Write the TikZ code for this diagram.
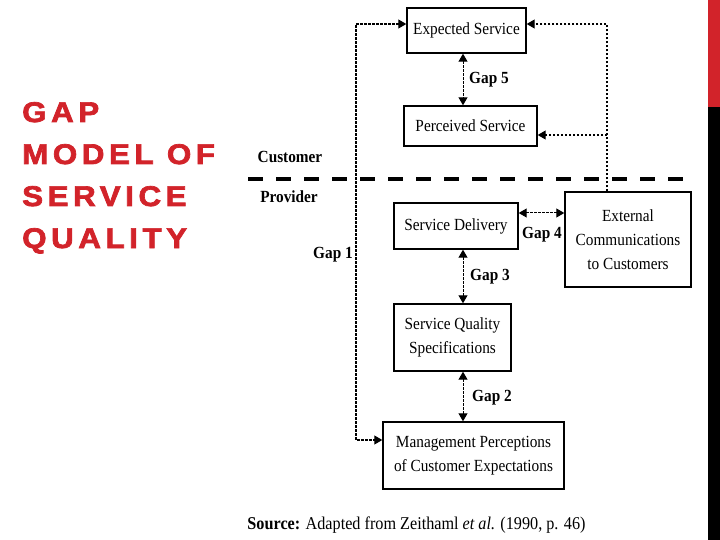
\documentclass[tikz,border=0pt]{standalone}
\usepackage{fontspec}
\setmainfont[FakeStretch=0.9]{Liberation Serif}
\newfontfamily\headfont[LetterSpace=16,FakeBold=2.5,FakeStretch=1.1]{Liberation Sans Bold}
\usepackage{tikz}
\usetikzlibrary{arrows.meta,calc,positioning}
\definecolor{headcol}{RGB}{210,35,42}
\tikzset{
  box/.style={draw,line width=1.4pt,inner sep=0pt,align=center,font=\fontsize{17}{24}\selectfont},
  gap/.style={line width=1pt,dash pattern=on 2.5pt off 1.5pt,<->},
  fb/.style={line width=1.1pt,dash pattern=on 2.5pt off 1.5pt},
  lbl/.style={inner sep=0pt,font=\fontsize{17}{20}\selectfont\bfseries},
  head/.style={inner sep=0pt,anchor=base west,text=headcol,font=\headfont\fontsize{28.5}{42}\selectfont}
}
\begin{document}
\begin{tikzpicture}[x=1pt,y=-1pt,>={Triangle[length=8pt,width=9pt]}]
\useasboundingbox (0,0) rectangle (720,540);
% slide title and edge bar
\foreach \t [count=\i] in {GAP,MODEL OF,SERVICE,QUALITY}
  \node[head] (head\i) at (22,{122+42*(\i-1)}) {\t};
\fill[headcol] (708,0) rectangle (720,107);
\fill[black] (708,107) rectangle (720,540);
% customer side
\node[box,minimum width=119pt,minimum height=45pt] (exp) at (466.5,30.5) {Expected Service};
\node[box,minimum width=133pt,minimum height=40pt] (perc) at (470.5,126) {Perceived Service};
% provider side
\node[box,minimum width=124pt,minimum height=46pt] (deliv) at (456,226) {Service Delivery};
\node[box,minimum width=126pt,minimum height=95pt] (ext) at (628,239.5) {External\\Communications\\to Customers};
\node[box,minimum width=117pt,minimum height=67pt] (spec) at (452.5,337.5) {Service Quality\\Specifications};
\node[box,minimum width=181pt,minimum height=67pt] (mgmt) at (473.5,455.5) {Management Perceptions\\of Customer Expectations};
% boundary
\draw[line width=3.5pt,dash pattern=on 15pt off 13pt] (248,179) -- (683,179);
\node[lbl] (cust) at (290,157) {Customer};
\node[lbl] (prov) at (289,197) {Provider};
% gaps
\coordinate (gx) at (463,0);
\draw[gap] (gx |- exp.south) -- (gx |- perc.north);
\draw[gap] (gx |- deliv.south) -- (gx |- spec.north);
\draw[gap] (gx |- spec.south) -- (gx |- mgmt.north);
\coordinate (g4) at (0,213);
\draw[gap] (deliv.east |- g4) -- (ext.west |- g4);
\node[lbl] (gap5) at (489,80) {Gap 5};
\node[lbl] (gap3) at (490,277) {Gap 3};
\node[lbl] (gap2) at (492,398) {Gap 2};
\node[lbl] (gap4) at (542,235) {Gap 4};
\node[lbl] (gap1) at (333,255) {Gap 1};
% feedback lines
\coordinate (ltop) at (356,24);
\coordinate (lbot) at (356,440);
\draw[fb,<->] (exp.west |- ltop) -- (ltop) -- (lbot) -- (mgmt.west |- lbot);
\coordinate (rtop) at (607,24);
\coordinate (rmid) at (607,135);
\draw[fb,->] (ext.north -| rtop) -- (rtop) -- (exp.east |- rtop);
\draw[fb,->] (rmid) -- (perc.east |- rmid);
% source
\node[inner sep=0pt,font=\fontsize{18}{20}\selectfont] (src) at (416.5,525) {\textbf{Source:} Adapted from Zeithaml \textit{et al.} (1990, p. 46)};
\end{tikzpicture}
\end{document}
